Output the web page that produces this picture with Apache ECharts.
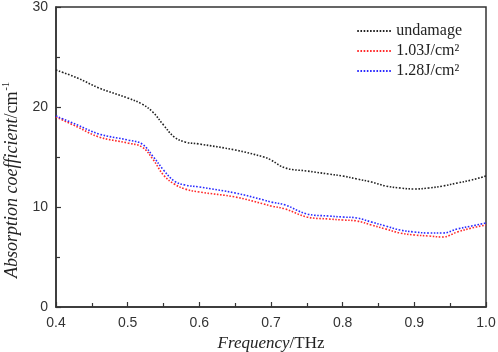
<!DOCTYPE html>
<html>
<head>
<meta charset="utf-8">
<script src="https://cdn.jsdelivr.net/npm/echarts@6/dist/echarts.min.js"></script>
<style>
  html, body { margin: 0; padding: 0; background: #fff; }
  #chart { width: 498px; height: 352px; }
</style>
</head>
<body>
<div id="chart"></div>
<script>
var freq = [0.40, 0.43, 0.46, 0.50, 0.52, 0.535, 0.55, 0.565, 0.58, 0.60, 0.65, 0.69, 0.70, 0.72,
  0.75, 0.78, 0.80, 0.82, 0.84, 0.86, 0.88, 0.90, 0.92, 0.94, 0.96, 0.98, 1.00];
var undamage = [23.7, 22.9, 21.9, 20.9, 20.3, 19.5, 18.2, 17.0, 16.5, 16.3, 15.7, 15.0, 14.7, 13.9,
  13.6, 13.3, 13.1, 12.8, 12.5, 12.1, 11.9, 11.8, 11.9, 12.1, 12.4, 12.7, 13.1];
var fluence103 = [19.0, 18.0, 17.0, 16.4, 16.0, 14.8, 13.2, 12.3, 11.8, 11.5, 11.0, 10.3, 10.1, 9.8,
  9.0, 8.8, 8.7, 8.6, 8.2, 7.8, 7.4, 7.2, 7.1, 7.0, 7.5, 7.9, 8.2];
var fluence128 = [19.1, 18.2, 17.3, 16.7, 16.3, 15.1, 13.7, 12.6, 12.2, 12.0, 11.4, 10.7, 10.5, 10.2,
  9.3, 9.1, 9.0, 8.9, 8.5, 8.1, 7.7, 7.5, 7.4, 7.4, 7.8, 8.1, 8.4];
var seriesNames = ['undamage', '1.03J/cm²', '1.28J/cm²'];
var seriesColors = ['#222222', '#ff2a2a', '#2a2aff'];
var seriesValues = [undamage, fluence103, fluence128];

function pairs(ys) {
  return freq.map(function (x, i) { return [x, ys[i]]; });
}

var chart = echarts.init(document.getElementById('chart'));

var series = seriesNames.map(function (name, i) {
  return {
    name: name,
    type: 'line',
    smooth: 0.4,
    symbol: 'none',
    data: pairs(seriesValues[i]),
    lineStyle: { color: seriesColors[i], width: 1.6, type: [1.6, 1.6] },
    itemStyle: { color: seriesColors[i] }
  };
});

var option = {
  animation: false,
  grid: {
    left: 56, right: 12, top: 7, bottom: 45,
    outerBoundsMode: 'none',
    show: true, borderColor: '#333', borderWidth: 1.5
  },
  legend: {
    right: 31, top: 18,
    orient: 'vertical',
    itemGap: 4,
    itemWidth: 34,
    itemHeight: 10,
    data: seriesNames,
    itemStyle: { opacity: 0 },
    textStyle: { fontFamily: 'Liberation Serif', fontSize: 16, color: '#222' }
  },
  xAxis: {
    type: 'value',
    min: 0.4, max: 1.0, interval: 0.1,
    name: '{it|Frequency}{rm|/THz}',
    nameLocation: 'middle',
    nameGap: 27,
    nameTextStyle: {
      rich: {
        it: { fontFamily: 'Liberation Serif', fontStyle: 'italic', fontSize: 17, color: '#222' },
        rm: { fontFamily: 'Liberation Serif', fontSize: 17, color: '#222' }
      }
    },
    axisLine: { lineStyle: { color: '#333', width: 1.5 } },
    axisTick: { inside: true, length: 5, lineStyle: { color: '#333', width: 1.2 } },
    minorTick: { show: true, splitNumber: 2, length: 4, lineStyle: { color: '#333', width: 1.2 } },
    splitLine: { show: false },
    axisLabel: {
      margin: 9,
      fontFamily: 'Liberation Sans', fontSize: 14, color: '#333',
      formatter: function (v) { return v.toFixed(1); }
    }
  },
  yAxis: {
    type: 'value',
    min: 0, max: 30, interval: 10,
    name: '{it|Absorption coefficient}{rm|/cm}{sup|-1}',
    nameLocation: 'middle',
    nameGap: 33,
    nameRotate: 90,
    nameTextStyle: {
      padding: [0, 46, 0, 0],
      rich: {
        it: { fontFamily: 'Liberation Serif', fontStyle: 'italic', fontSize: 18, color: '#222' },
        rm: { fontFamily: 'Liberation Serif', fontSize: 18, color: '#222' },
        sup: { fontFamily: 'Liberation Serif', fontSize: 10, color: '#222', verticalAlign: 'top', padding: [0, 0, 12, 1] }
      }
    },
    axisLine: { show: true, lineStyle: { color: '#333', width: 1.5 } },
    axisTick: { inside: true, length: 5, lineStyle: { color: '#333', width: 1.2 } },
    minorTick: { show: true, splitNumber: 2, length: 4, lineStyle: { color: '#333', width: 1.2 } },
    splitLine: { show: false },
    axisLabel: { margin: 8, fontFamily: 'Liberation Sans', fontSize: 14, color: '#333' }
  },
  series: series
};

chart.setOption(option);
</script>
</body>
</html>
